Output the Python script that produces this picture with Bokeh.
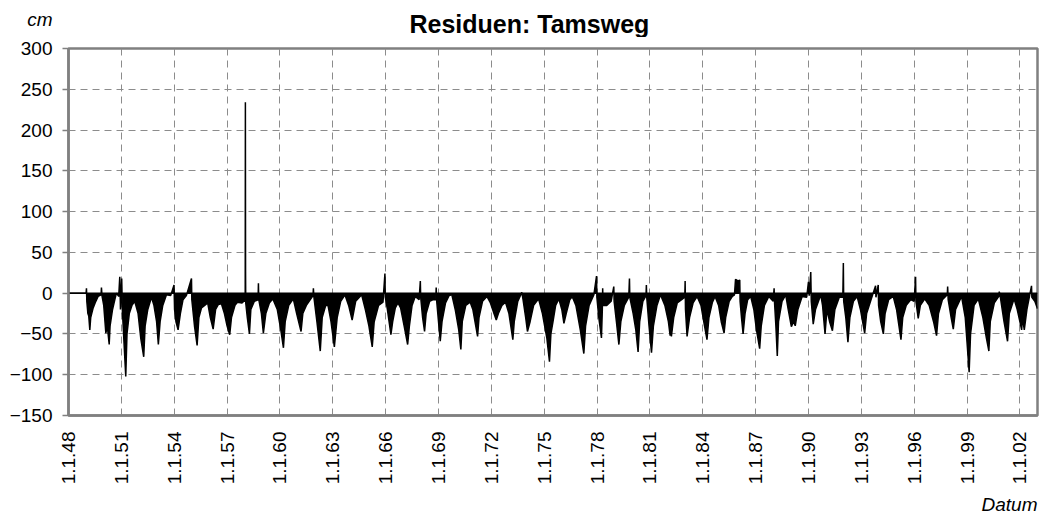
import math
from bokeh.plotting import figure
from bokeh.layouts import column
from bokeh.models import FixedTicker, Range1d, Title
from bokeh.core.properties import value
from bokeh.embed import file_html
from bokeh.resources import INLINE

chart_title = "Residuen: Tamsweg"
y_unit = "cm"
x_name = "Datum"

tick_years = [1948, 1951, 1954, 1957, 1960, 1963, 1966, 1969, 1972, 1975,
              1978, 1981, 1984, 1987, 1990, 1993, 1996, 1999, 2002]
tick_labels = ["1.1.48", "1.1.51", "1.1.54", "1.1.57", "1.1.60", "1.1.63",
               "1.1.66", "1.1.69", "1.1.72", "1.1.75", "1.1.78", "1.1.81",
               "1.1.84", "1.1.87", "1.1.90", "1.1.93", "1.1.96", "1.1.99",
               "1.1.02"]
y_ticks = [-150, -100, -50, 0, 50, 100, 150, 200, 250, 300]

# residual samples (decimal year, cm)
t_year = [
    1948.00, 1949.00,
    1949.02, 1949.04, 1949.10, 1949.15, 1949.21, 1949.26, 1949.40, 1949.55, 1949.68, 1949.85, 1949.87, 1949.90,
    1950.00, 1950.12, 1950.20, 1950.31, 1950.36, 1950.50, 1950.65, 1950.72, 1950.85, 1950.91, 1950.95,
    1951.02, 1951.06, 1951.15, 1951.25, 1951.32, 1951.45, 1951.60, 1951.76, 1951.95,
    1952.10, 1952.27, 1952.35, 1952.50, 1952.71, 1952.85,
    1953.00, 1953.10, 1953.20, 1953.35, 1953.56, 1953.80, 1953.99,
    1954.02, 1954.10, 1954.22, 1954.35, 1954.50, 1954.69, 1954.98,
    1955.00, 1955.15, 1955.30, 1955.40, 1955.55, 1955.73, 1955.90,
    1956.05, 1956.21, 1956.35, 1956.50, 1956.68, 1956.85,
    1957.00, 1957.15, 1957.25, 1957.45, 1957.60, 1957.85, 1957.95,
    1958.03, 1958.04, 1958.05, 1958.06, 1958.15, 1958.27, 1958.35, 1958.55, 1958.76, 1958.78, 1958.80, 1958.95,
    1959.06, 1959.20, 1959.40, 1959.60, 1959.85,
    1960.05, 1960.20, 1960.30, 1960.50, 1960.76, 1960.95,
    1961.20, 1961.30, 1961.50, 1961.88, 1961.90, 1961.93,
    1962.10, 1962.29, 1962.40, 1962.60, 1962.73, 1962.90,
    1963.09, 1963.25, 1963.45, 1963.69, 1963.90,
    1964.10, 1964.30, 1964.64, 1964.85,
    1965.05, 1965.24, 1965.35, 1965.60, 1965.85, 1965.96, 1965.98,
    1966.10, 1966.30, 1966.40, 1966.55, 1966.70, 1966.85,
    1967.05, 1967.25, 1967.35, 1967.50, 1967.68, 1967.90, 1967.97, 1967.99,
    1968.10, 1968.21, 1968.30, 1968.50, 1968.70, 1968.85, 1968.87, 1968.90,
    1969.10, 1969.20, 1969.40, 1969.60, 1969.76, 1969.95,
    1970.15, 1970.27, 1970.35, 1970.55, 1970.80, 1970.95,
    1971.22, 1971.30, 1971.50, 1971.75, 1971.95,
    1972.15, 1972.28, 1972.40, 1972.60, 1972.80,
    1973.00, 1973.22, 1973.30, 1973.50, 1973.73, 1973.80, 1973.95,
    1974.05, 1974.20, 1974.40, 1974.68, 1974.90,
    1975.15, 1975.30, 1975.38, 1975.50, 1975.65, 1975.83,
    1976.00, 1976.12, 1976.25, 1976.45, 1976.59, 1976.80,
    1977.05, 1977.25, 1977.35, 1977.55, 1977.82, 1977.97, 1977.99,
    1978.10, 1978.25, 1978.30, 1978.32, 1978.34, 1978.55, 1978.80, 1978.95, 1978.97,
    1979.10, 1979.24, 1979.35, 1979.55, 1979.80, 1979.84, 1979.86,
    1980.05, 1980.20, 1980.33, 1980.42, 1980.60, 1980.78, 1980.80, 1980.82, 1980.95,
    1981.09, 1981.20, 1981.40, 1981.60, 1981.85,
    1982.05, 1982.15, 1982.18, 1982.22, 1982.35, 1982.55, 1982.80, 1982.98,
    1983.00, 1983.02, 1983.11, 1983.25, 1983.45, 1983.68, 1983.90,
    1984.10, 1984.24, 1984.35, 1984.55, 1984.70, 1984.90,
    1985.05, 1985.21, 1985.30, 1985.50, 1985.68, 1985.80, 1985.86,
    1986.00, 1986.10, 1986.12, 1986.20, 1986.29, 1986.40, 1986.55, 1986.72, 1986.90,
    1987.05, 1987.23, 1987.32, 1987.50, 1987.75,
    1988.00, 1988.05, 1988.07, 1988.15, 1988.23, 1988.30, 1988.50, 1988.71, 1988.85,
    1989.03, 1989.15, 1989.25, 1989.40, 1989.64, 1989.90,
    1990.00, 1990.05, 1990.13, 1990.16, 1990.27, 1990.40, 1990.70, 1990.80, 1990.94,
    1991.05, 1991.20, 1991.36, 1991.50, 1991.75, 1991.95, 1991.98,
    1992.00, 1992.12, 1992.24, 1992.35, 1992.55, 1992.76, 1992.95,
    1993.19, 1993.30, 1993.55, 1993.81, 1993.83, 1993.96, 1993.98,
    1994.10, 1994.25, 1994.35, 1994.55, 1994.81,
    1995.00, 1995.25, 1995.35, 1995.55, 1995.80,
    1996.00, 1996.08, 1996.10, 1996.23, 1996.35, 1996.60, 1996.85,
    1997.10, 1997.27, 1997.38, 1997.60, 1997.88, 1997.90, 1997.93,
    1998.10, 1998.22, 1998.35, 1998.69, 1998.90,
    1999.00, 1999.12, 1999.20, 1999.40, 1999.64, 1999.90,
    2000.10, 2000.24, 2000.32, 2000.55, 2000.80, 2000.83, 2000.90,
    2001.10, 2001.30, 2001.40, 2001.67, 2001.85,
    2002.00, 2002.10, 2002.15, 2002.25, 2002.40, 2002.66, 2002.68, 2002.85, 2003.00,
]
resid_cm = [
    0, 0,
    6, -10, -25, -28, -45, -30, -18, -10, -4, -2, 7, -3,
    -15, -49, -40, -63, -40, -20, -6, 0, -4, 20, -20,
    18, -22, -60, -102, -50, -25, -15, -10, -25,
    -55, -78, -40, -20, -5, -15,
    -35, -63, -35, -15, -2, -3, 10,
    -20, -35, -45, -25, -8, -3, 18,
    -8, -40, -64, -30, -18, -15, -12,
    -30, -44, -20, -14, -13, -25,
    -40, -51, -30, -15, -11, -12, -10,
    -10, 234, 26, -12, -30, -50, -20, -10, -8, 12, -8, -25,
    -49, -25, -12, -7, -20,
    -45, -67, -35, -15, -7, -25,
    -47, -25, -15, -3, 6, -5,
    -35, -71, -30, -15, -15, -35,
    -66, -30, -10, -2, -15,
    -33, -10, -2, -20,
    -40, -66, -35, -15, -11, 24, -5,
    -20, -51, -35, -18, -12, -18,
    -40, -63, -40, -15, -4, -8, 15, -5,
    -30, -47, -25, -10, -8, -8, 7, -10,
    -59, -35, -12, -3, -2, -20,
    -45, -69, -35, -15, -11, -20,
    -53, -30, -10, -4, -12,
    -25, -33, -25, -15, -11,
    -25, -57, -35, -10, 1, -8, -30,
    -47, -35, -15, -7, -25,
    -55, -84, -50, -35, -15, -7,
    -20, -37, -25, -8, -4, -15,
    -45, -74, -40, -15, -2, 21, -5,
    -30, -55, -20, 6, -15, -15, -10, 8, -10,
    -35, -63, -35, -15, -5, 18, -5,
    -25, -45, -72, -35, -10, -3, 10, -5, -40,
    -73, -40, -15, -2, -15,
    -35, -52, -35, -53, -30, -12, -8, -5,
    15, -20, -53, -30, -12, -4, -15,
    -40, -57, -30, -11, -4, -15,
    -35, -49, -30, -10, -4, -2, 17,
    15, 16, -10, -30, -50, -25, -8, -4, -20,
    -45, -68, -40, -15, -4,
    -10, 6, -10, -40, -77, -35, -10, -2, -20,
    -41, -35, -40, -20, -4, -5,
    14, -3, 26, -10, -38, -20, -2, -15, -50,
    -20, -35, -46, -20, -5, -5, 37,
    -10, -30, -60, -30, -10, -4, -20,
    -49, -25, -8, 9, -5, 10, -15,
    -35, -50, -25, -8, -4,
    -20, -57, -30, -15, -8,
    -10, 20, -10, -31, -15, -7, -15,
    -35, -52, -25, -8, -2, 8, -8,
    -30, -44, -20, -4, -30,
    -60, -97, -50, -15, -7, -30,
    -55, -71, -35, -12, -4, 2, -6,
    -35, -59, -25, -7, -20,
    -35, -45, -30, -45, -20, 9, -5, -10, -19,
]
n = min(len(t_year), len(resid_cm))
t_year = t_year[:n]
resid_cm = resid_cm[:n]

FONT = "Liberation Sans"
GRID = "#8c8c8c"
FRAME = "#808080"
W = 1048
LEFT, RIGHT = 68, 11
HEAD_H = 37

# header strip: unit as a left-axis label, title as text (pixel coords, y down)
head = figure(width=W, height=HEAD_H, output_backend="svg", toolbar_location=None,
              x_range=Range1d(LEFT, W - RIGHT), y_range=Range1d(HEAD_H, 0),
              x_axis_location=None, title_location=None,
              min_border_left=LEFT, min_border_right=RIGHT,
              min_border_top=0, min_border_bottom=0)
head.outline_line_color = None
head.grid.visible = False
head.border_fill_color = "white"
head.yaxis.ticker = FixedTicker(ticks=[19])
head.yaxis.major_label_overrides = {19: y_unit}
head.yaxis.axis_line_color = None
head.yaxis.major_tick_line_color = None
head.yaxis.minor_tick_line_color = None
head.yaxis.major_tick_out = 0
head.yaxis.major_label_standoff = 16
head.yaxis.major_label_text_font = FONT
head.yaxis.major_label_text_font_style = "italic"
head.yaxis.major_label_text_font_size = "19px"
head.yaxis.major_label_text_color = "black"
head.text(x=[409], y=[23], text=[chart_title], text_align="left",
          text_baseline="middle", text_font=value(FONT),
          text_font_style="bold", text_font_size="25px", text_color="black")

p = figure(width=W, height=518 - HEAD_H, output_backend="svg", toolbar_location=None,
           x_range=Range1d(1948, 2003), y_range=Range1d(-150, 300),
           title_location=None,
           min_border_left=LEFT, min_border_right=RIGHT, min_border_top=48 - HEAD_H,
           min_border_bottom=102)
p.background_fill_color = "white"
p.border_fill_color = "white"
p.outline_line_color = FRAME
p.outline_line_width = 2.5

# fill between zero and residuals
p.varea(x=t_year, y1=[0] * n, y2=resid_cm, fill_color="black")
p.line(x=t_year, y=resid_cm, line_color="black", line_width=1.5)
p.line(x=[1948, 2003], y=[0, 0], line_color="black", line_width=1.5)

p.xaxis.ticker = FixedTicker(ticks=tick_years)
p.xaxis.major_label_overrides = {yr: lab for yr, lab in zip(tick_years, tick_labels)}
p.xaxis.major_label_orientation = math.pi / 2
p.xaxis.major_tick_out = 0
p.xaxis.major_tick_in = 0
p.xaxis.minor_tick_line_color = None
p.xaxis.major_label_standoff = 16
p.yaxis.ticker = FixedTicker(ticks=y_ticks)
p.yaxis.major_tick_out = 6
p.yaxis.major_tick_in = 0
p.yaxis.minor_tick_line_color = None
p.yaxis.major_label_standoff = 10
for ax in (p.xaxis, p.yaxis):
    ax.axis_line_color = FRAME
    ax.axis_line_width = 2.5
    ax.major_tick_line_color = FRAME
    ax.major_tick_line_width = 1.5
    ax.major_label_text_font = FONT
    ax.major_label_text_font_size = "19px"
    ax.major_label_text_color = "black"

p.xgrid.ticker = FixedTicker(ticks=tick_years)
p.ygrid.ticker = FixedTicker(ticks=y_ticks)
for g in (p.xgrid, p.ygrid):
    g.grid_line_color = GRID
    g.grid_line_dash = "7 5"
    g.grid_line_width = 1

p.add_layout(Title(text=x_name, align="right", text_font=FONT,
                   text_font_style="italic", text_font_size="19px",
                   text_color="black", standoff=8), "below")

layout = column(head, p, spacing=0)
open("out.html", "w").write(file_html(layout, INLINE))
